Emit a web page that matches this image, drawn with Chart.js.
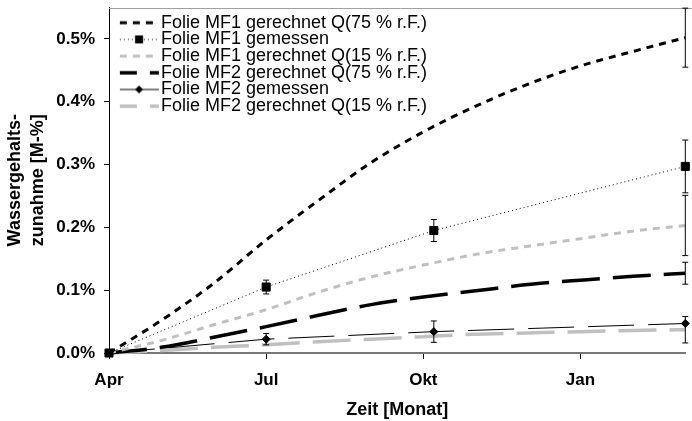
<!DOCTYPE html>
<html>
<head>
<meta charset="utf-8">
<script src="https://cdn.jsdelivr.net/npm/chart.js@4.4.1/dist/chart.umd.min.js"></script>
<style>
  body { margin: 0; background: #fff; }
  #wrap { width: 692px; height: 421px; }
</style>
</head>
<body>
<div id="wrap"><canvas id="grafico" width="692" height="421"></canvas></div>
<script>
// Zeitachse in Monaten ab April
const monate = [0, 1, 2, 3, 4, 5, 6, 7, 8, 9, 10, 11];
const monateGemessen = [0, 3, 6.2, 11];
const monatTicks = [0, 3, 6, 9];
const monatLabels = ['Apr', 'Jul', 'Okt', 'Jan'];
const yTicks = [0, 0.1, 0.2, 0.3, 0.4, 0.5];

// Wassergehaltszunahme in M-%
const mf1Q75 = [0, 0.052, 0.111, 0.18, 0.243, 0.303, 0.352, 0.393, 0.428, 0.457, 0.48, 0.502];
const mf1Gemessen = [0, 0.105, 0.195, 0.297];
const mf1Q15 = [0, 0.02, 0.045, 0.069, 0.097, 0.121, 0.14, 0.157, 0.17, 0.182, 0.194, 0.203];
const mf2Q75 = [0, 0.009, 0.025, 0.042, 0.06, 0.077, 0.089, 0.099, 0.109, 0.116, 0.122, 0.127];
const mf2Gemessen = [0, 0.022, 0.034, 0.047];
const mf2Q15 = [0, 0.004, 0.009, 0.013, 0.018, 0.022, 0.026, 0.03, 0.032, 0.034, 0.036, 0.037];

// Fehlerbalken (+/-)
const mf1GemessenErr = [0, 0.011, 0.0175, 0.042];
const mf2GemessenErr = [0, 0.009, 0.017, 0];
const mf1Q75EndErr = 0.047;
const mf1Q15EndErr = 0.048;
const mf2Q75EndErr = 0.0175;
const mf2Q15EndErr = 0.021;

const schrift = "'Liberation Sans', Arial, sans-serif";
const grau = '#c0c0c0';

function punkte(xs, ys) {
    return xs.map((x, i) => ({ x: x, y: ys[i] }));
}
function endFehler(xs, e) {
    return xs.map((x, i) => i === xs.length - 1 ? e : 0);
}

// kleines Bild fuer die Legende (Linie + Marker)
function legendenBild(farbe, breite, strich, marker) {
    const c = document.createElement('canvas');
    c.width = 60;
    c.height = 14;
    const g = c.getContext('2d');
    g.strokeStyle = farbe;
    g.lineWidth = breite;
    g.setLineDash(strich);
    g.beginPath();
    g.moveTo(20, 7);
    g.lineTo(59, 7);
    g.stroke();
    g.setLineDash([]);
    g.fillStyle = '#000';
    const mx = 39.2;
    if (marker === 'rect') {
        g.fillRect(mx - 4, 7 - 4, 8, 8);
    } else if (marker === 'rectRot') {
        g.beginPath();
        g.moveTo(mx, 3); g.lineTo(mx + 4, 7); g.lineTo(mx, 11); g.lineTo(mx - 4, 7);
        g.closePath();
        g.fill();
    }
    return c;
}

const datensaetze = [
    { label: 'Folie MF1 gerechnet Q(75 % r.F.)', data: punkte(monate, mf1Q75), fehler: endFehler(monate, mf1Q75EndErr),
      borderColor: '#000', borderWidth: 3, borderDash: [7, 6], pointRadius: 0, cubicInterpolationMode: 'monotone' },
    { label: 'Folie MF1 gemessen', data: punkte(monateGemessen, mf1Gemessen), fehler: mf1GemessenErr,
      borderColor: '#000', borderWidth: 1, borderDash: [1, 3], pointStyle: 'rect', pointRadius: 5.7,
      pointBackgroundColor: '#000', pointBorderColor: '#000', tension: 0 },
    { label: 'Folie MF1 gerechnet Q(15 % r.F.)', data: punkte(monate, mf1Q15), fehler: endFehler(monate, mf1Q15EndErr),
      borderColor: grau, borderWidth: 3, borderDash: [7, 6], pointRadius: 0, cubicInterpolationMode: 'monotone' },
    { label: 'Folie MF2 gerechnet Q(75 % r.F.)', data: punkte(monate, mf2Q75), fehler: endFehler(monate, mf2Q75EndErr),
      borderColor: '#000', borderWidth: 3.5, borderDash: [38, 13], pointRadius: 0, cubicInterpolationMode: 'monotone' },
    { label: 'Folie MF2 gemessen', data: punkte(monateGemessen, mf2Gemessen), fehler: mf2GemessenErr,
      borderColor: '#000', borderWidth: 1, borderDash: [46, 14], pointStyle: 'rectRot', pointRadius: 4,
      pointBackgroundColor: '#000', pointBorderColor: '#000', tension: 0 },
    { label: 'Folie MF2 gerechnet Q(15 % r.F.)', data: punkte(monate, mf2Q15), fehler: endFehler(monate, mf2Q15EndErr),
      borderColor: grau, borderWidth: 3.5, borderDash: [38, 13], pointRadius: 0, cubicInterpolationMode: 'monotone' }
];
datensaetze.forEach(d => { d.fill = false; d.clip = false; });

const legendenBilder = [
    legendenBild('#000', 3, [7, 6], null),
    legendenBild('#000', 1, [1, 3], 'rect'),
    legendenBild(grau, 3, [7, 6], null),
    legendenBild('#000', 3.5, [17, 13], null),
    legendenBild('#000', 1, [], 'rectRot'),
    legendenBild(grau, 3.5, [17, 13], null)
];

// Fehlerbalken und oberer Rahmen
const fehlerPlugin = {
    id: 'fehlerbalken',
    beforeDatasetsDraw(chart) {
        const ctx = chart.ctx;
        const a = chart.chartArea;
        ctx.save();
        ctx.strokeStyle = '#a0a0a0';
        ctx.lineWidth = 1;
        ctx.beginPath();
        ctx.moveTo(a.left, Math.round(a.top) + 0.5);
        ctx.lineTo(chart.width, Math.round(a.top) + 0.5);
        ctx.stroke();
        ctx.restore();
    },
    afterDatasetsDraw(chart) {
        const ctx = chart.ctx;
        const sx = chart.scales.x;
        const sy = chart.scales.y;
        ctx.save();
        ctx.strokeStyle = '#000';
        ctx.lineWidth = 1;
        chart.data.datasets.forEach(ds => {
            ds.data.forEach((p, i) => {
                const e = ds.fehler[i];
                if (!e) return;
                const px = sx.getPixelForValue(p.x);
                const y1 = sy.getPixelForValue(p.y + e);
                const y2 = sy.getPixelForValue(p.y - e);
                ctx.beginPath();
                ctx.moveTo(px, y1); ctx.lineTo(px, y2);
                ctx.moveTo(px - 3, y1); ctx.lineTo(px + 3, y1);
                ctx.moveTo(px - 3, y2); ctx.lineTo(px + 3, y2);
                ctx.stroke();
            });
        });
        ctx.restore();
    }
};

function ohneRand(s) {
    s.paddingTop = 0;
    s.paddingBottom = 0;
    s.paddingLeft = 0;
    s.paddingRight = 0;
}

new Chart(document.getElementById('grafico'), {
    type: 'line',
    data: { datasets: datensaetze },
    options: {
        responsive: false,
        animation: false,
        layout: { padding: { top: 7.5, right: 2, left: 0, bottom: 0 } },
        plugins: {
            tooltip: { enabled: false },
            legend: {
                position: 'chartArea',
                align: 'start',
                // Legende beginnt bei y=0, Titel schiebt die Zeilen nach unten
                title: { display: true, text: ' ', font: { size: 1 }, padding: { top: 13.8, bottom: 0 } },
                labels: {
                    usePointStyle: true,
                    pointStyleWidth: 44.3,
                    padding: -1.3,
                    color: '#000',
                    font: { family: schrift, size: 18 },
                    generateLabels(chart) {
                        const items = Chart.defaults.plugins.legend.labels.generateLabels(chart);
                        items.forEach(it => { it.pointStyle = legendenBilder[it.datasetIndex]; });
                        return items;
                    }
                }
            }
        },
        scales: {
            x: {
                type: 'linear',
                min: 0,
                max: 11,
                afterBuildTicks: s => { s.ticks = monatTicks.map(v => ({ value: v })); },
                afterFit: s => { s.height = 68; ohneRand(s); },
                ticks: {
                    color: '#000',
                    padding: 10.8,
                    maxRotation: 0,
                    autoSkip: false,
                    font: { family: schrift, size: 17, weight: 'bold' },
                    callback: v => monatLabels[monatTicks.indexOf(v)]
                },
                grid: { drawOnChartArea: false, drawTicks: true, tickLength: 6, color: '#000' },
                border: { display: true, color: '#777', width: 2 },
                title: {
                    display: true,
                    text: 'Zeit [Monat]',
                    color: '#000',
                    font: { family: schrift, size: 18, weight: 'bold' },
                    padding: { top: 0, bottom: 0 }
                }
            },
            y: {
                min: 0,
                max: 0.55,
                afterBuildTicks: s => { s.ticks = yTicks.map(v => ({ value: v })); },
                afterFit: s => { s.width = 109; ohneRand(s); },
                ticks: {
                    color: '#000',
                    padding: 9,
                    font: { family: schrift, size: 17, weight: 'bold' },
                    callback: v => v.toFixed(1) + '%'
                },
                grid: { drawOnChartArea: false, drawTicks: true, tickLength: 5, color: '#000' },
                border: { display: true, color: '#000', width: 1 },
                title: {
                    display: true,
                    text: ['Wassergehalts-', 'zunahme [M-%]'],
                    color: '#000',
                    font: { family: schrift, size: 18, weight: 'bold', lineHeight: 1.28 },
                    padding: { top: 3.5, bottom: 0 }
                }
            }
        }
    },
    plugins: [fehlerPlugin]
});
</script>
</body>
</html>
